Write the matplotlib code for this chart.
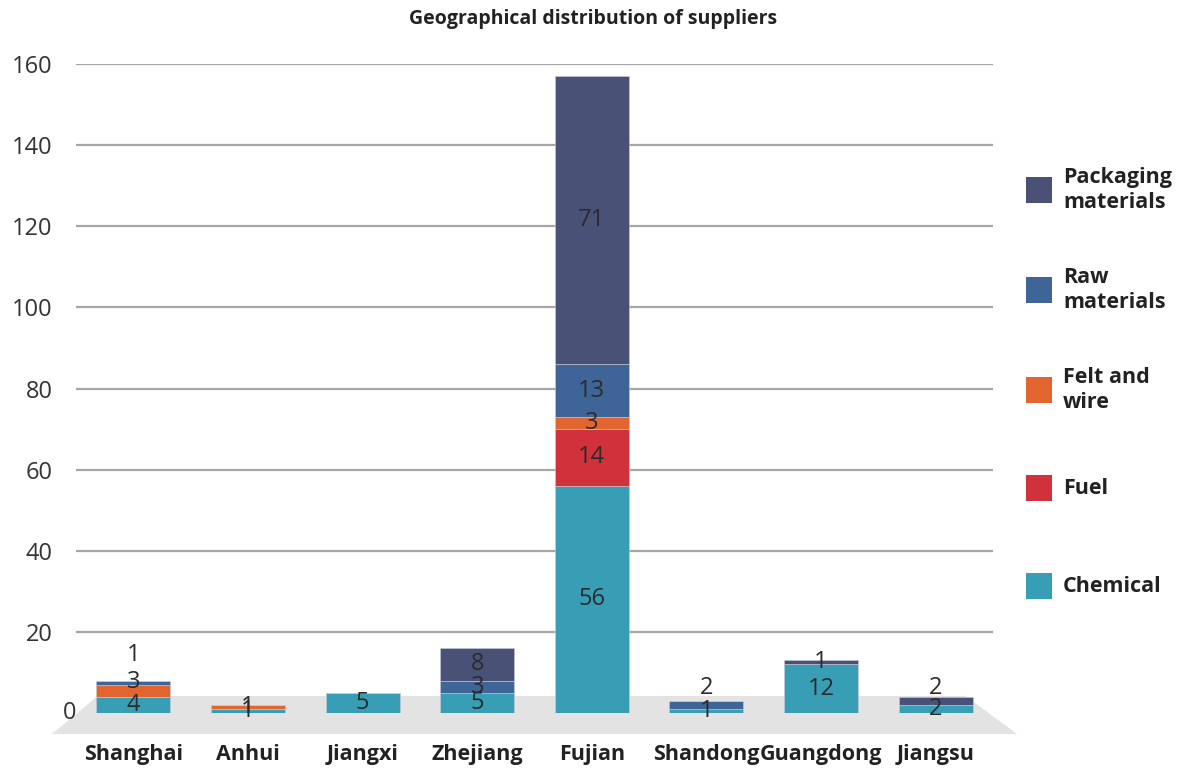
import numpy as np
import matplotlib
matplotlib.use("Agg")
import matplotlib.pyplot as plt
from matplotlib.patches import Polygon, Rectangle

# ---------- data ----------
provinces = ["Shanghai", "Anhui", "Jiangxi", "Zhejiang", "Fujian",
             "Shandong", "Guangdong", "Jiangsu"]
chemical  = [4, 1, 5, 5, 56, 1, 12, 2]
fuel      = [0, 0, 0, 0, 14, 0, 0, 0]
felt_wire = [3, 1, 0, 0, 3, 0, 0, 0]
raw_mat   = [1, 0, 0, 3, 13, 2, 0, 0]
packaging = [0, 0, 0, 8, 71, 0, 1, 2]

series = [("Chemical", chemical, "#379eb5"),
          ("Fuel", fuel, "#d0313a"),
          ("Felt and\nwire", felt_wire, "#e2642f"),
          ("Raw\nmaterials", raw_mat, "#3f6598"),
          ("Packaging\nmaterials", packaging, "#4a5177")]

# label nudges (points) where small segments would collide
nudge = {(0, 2): 6, (0, 3): 20, (5, 3): 12, (7, 4): 9}

fig = plt.figure(figsize=(11.85, 7.7), dpi=100)
ax = fig.add_axes([76/1185, 1-713/770, (993-76)/1185, (713-64)/770])

x = np.arange(len(provinces))
ax.set_xlim(-0.5, 7.5)
ax.set_ylim(0, 160)

# grey "floor"
floor = Polygon([(-0.31, 4.2), (-0.71, -5.2), (7.71, -5.2), (7.26, 4.2)],
                closed=True, facecolor="#e3e3e3", edgecolor="none",
                zorder=1, clip_on=False)
ax.add_patch(floor)

ax.set_yticks(np.arange(20, 161, 20))
ax.yaxis.grid(True, color="#a6a6a6", linewidth=1.6, zorder=0)
ax.set_axisbelow(True)
for s in ax.spines.values():
    s.set_visible(False)
ax.tick_params(axis="y", length=0, pad=17, labelsize=17, labelcolor="#333333")
ax.tick_params(axis="x", length=0)
ax.set_xticks([])
for lab in ax.get_yticklabels():
    lab.set_family("Open Sans")
ax.text(-0.5, 0, "0", transform=ax.transData, ha="right", va="center",
        fontsize=17, color="#333333", family="Open Sans")

bottom = np.zeros(len(provinces))
for si, (name, vals, col) in enumerate(series):
    vals = np.array(vals, dtype=float)
    ax.bar(x, vals, width=0.646, bottom=bottom, color=col,
           edgecolor="#c9cbd6", linewidth=0.4, zorder=3)
    for i, v in enumerate(vals):
        if v > 0:
            ax.annotate(f"{int(v)}", (x[i], bottom[i] + v/2),
                        xytext=(0, nudge.get((i, si), 0)),
                        textcoords="offset points", ha="center", va="center",
                        fontsize=17, color="#2b2b2b", family="Open Sans",
                        zorder=5)
    bottom += vals

# category labels
for i, p in enumerate(provinces):
    ax.text(x[i], -10.3, p, ha="center", va="center", fontsize=15.5,
            fontweight="bold", color="#222222", family="Open Sans")

# title
fig.text(593/1185, 1-19/770, "Geographical distribution of suppliers",
         ha="center", va="center", fontsize=14, fontweight="bold",
         color="#222222", family="Open Sans")

# legend, top to bottom
leg_y = [190, 290, 390, 488, 586]
for (name, vals, col), yy in zip(series[::-1], leg_y):
    fig.patches.append(Rectangle((1026/1185, 1-(yy+13)/770), 26/1185, 26/770,
                                 transform=fig.transFigure, facecolor=col,
                                 edgecolor="none"))
    fig.text(1063/1185, 1-yy/770, name, ha="left", va="center",
             fontsize=15.5, fontweight="bold", color="#222222",
             family="Open Sans", linespacing=1.3)

fig.savefig("out.png", dpi=100, facecolor="white")
